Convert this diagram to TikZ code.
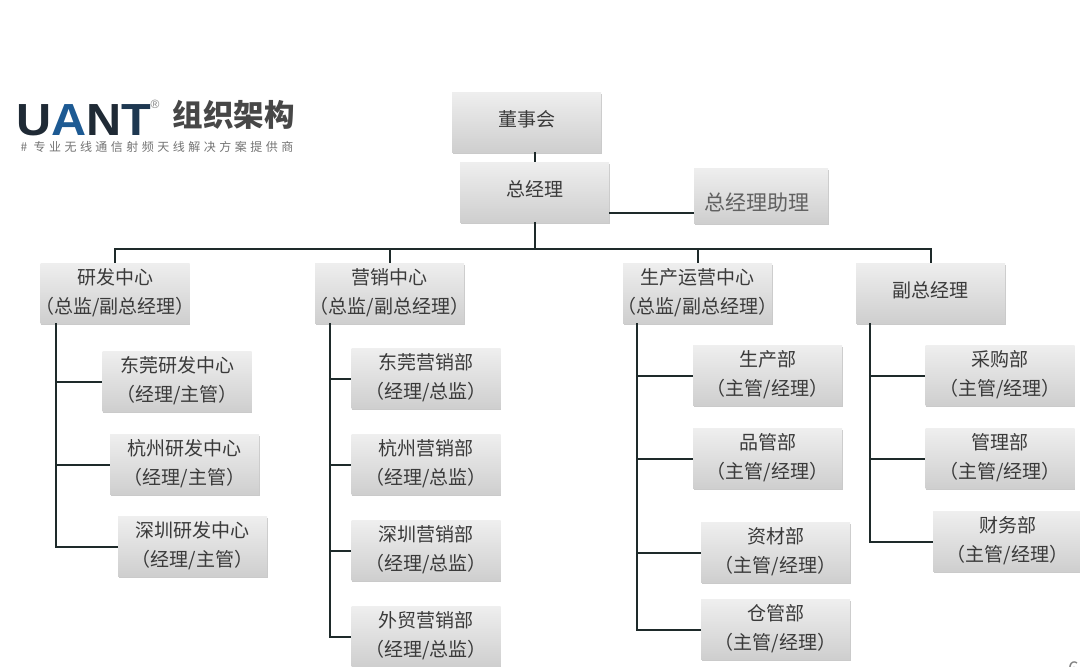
\documentclass[tikz,border=0pt]{standalone}
\usepackage{fontspec}
\setmainfont{Noto Sans CJK SC}
\newfontfamily\logofont{Liberation Sans}
\newfontfamily\tagfont[LetterSpace=29]{Noto Sans CJK SC}
\usetikzlibrary{shadows}
\definecolor{linec}{HTML}{1E2A2A}
\definecolor{textc}{HTML}{3A3A3A}
\definecolor{logoblue}{HTML}{1D5A93}
\definecolor{logodark}{HTML}{1F2A35}
\begin{document}
\begin{tikzpicture}[x=1pt, y=-1pt, every node/.style={font=\fontsize{19}{29}\selectfont, text=textc},
  b/.style={top color=gray!13, bottom color=gray!38, align=center, inner ysep=0pt, inner xsep=-8pt, minimum width=149pt, minimum height=60pt, text depth=4.5pt,
    drop shadow={shadow xshift=0.5pt, shadow yshift=-1.5pt, fill=gray!70, opacity=0.6}},
  one/.style={text depth=7pt},
  l/.style={draw=linec, line width=2pt}]
  \useasboundingbox (0,0) rectangle (1080,667);
  % logo
  \node[font=\logofont\bfseries\fontsize{45}{45}\selectfont, inner sep=0pt, text height=33pt, text depth=0pt, xscale=1.08] (uant) at (84,119) {\textcolor{logodark}{U}\textcolor{logoblue}{A}\textcolor{logodark}{N}\textcolor{logodark!70!logoblue}{T}};
  \node[font=\logofont\fontsize{12}{12}\selectfont, text=gray, inner sep=0pt] (reg) at (155,104) {\textregistered};
  \node[font=\bfseries\fontsize{30.5}{31}\selectfont, text=black!72, inner sep=0pt] (title) at (233.5,115) {组织架构};
  \node[font=\tagfont\fontsize{12}{12}\selectfont, text=gray!90!black, inner sep=0pt] (tag) at (157,147) {\# 专业无线通信射频天线解决方案提供商};
  % top
  \node[b, one] (board) at (526.5,122) {董事会};
  \node[b, one] (gm) at (534.5,192) {总经理};
  \node[b, minimum width=134pt, minimum height=55pt] (asst) at (761,195.5) {};
  \node[font=\fontsize{21}{29}\selectfont, text=textc!80, inner sep=0pt] (asstt) at (757,203) {总经理助理};
  % centres
  \node[b] (rd) at (115,293) {研发中心\\（总监/副总经理）};
  \node[b] (mkt) at (389.5,293) {营销中心\\（总监/副总经理）};
  \node[b] (prod) at (697.5,293) {生产运营中心\\（总监/副总经理）};
  \node[b, one] (vp) at (930.5,293) {副总经理};
  % rd
  \node[b] (rddg) at (177,381.5) {东莞研发中心\\（经理/主管）};
  \node[b] (rdhz) at (184.5,464.5) {杭州研发中心\\（经理/主管）};
  \node[b] (rdsz) at (192.5,546.5) {深圳研发中心\\（经理/主管）};
  % mkt
  \node[b] (mkdg) at (426,378.5) {东莞营销部\\（经理/总监）};
  \node[b] (mkhz) at (426,464.5) {杭州营销部\\（经理/总监）};
  \node[b] (mksz) at (426,550.5) {深圳营销部\\（经理/总监）};
  \node[b] (mkwm) at (426,636.5) {外贸营销部\\（经理/总监）};
  % prod
  \node[b] (pdsc) at (767.5,375.5) {生产部\\（主管/经理）};
  \node[b] (pdpg) at (767.5,458.5) {品管部\\（主管/经理）};
  \node[b] (pdzc) at (775.5,552.5) {资材部\\（主管/经理）};
  \node[b] (pdcg) at (775.5,629.5) {仓管部\\（主管/经理）};
  % vp
  \node[b] (vpcg) at (1000,375.5) {采购部\\（主管/经理）};
  \node[b] (vpgl) at (1000,458.5) {管理部\\（主管/经理）};
  \node[b] (vpcw) at (1007.5,541.5) {财务部\\（主管/经理）};
  % connectors
  \coordinate (bus) at (534.5,249);
  \coordinate (asstj) at (694,213);
  \coordinate (rdt) at (56,323);
  \coordinate (mkt0) at (330,323);
  \coordinate (prodt) at (637,323);
  \coordinate (vpt) at (870,323);
  \draw[l] (gm.north) -- (gm.north |- board.south);
  \draw[l] (gm.south) -- (bus);
  \draw[l] (gm.east |- asstj) -- (asstj);
  \draw[l] (rd.north) |- (bus) -| (vp.north);
  \draw[l] (mkt.north) -- (mkt.north |- bus);
  \draw[l] (prod.north) -- (prod.north |- bus);
  \draw[l] (rdt) |- (rdsz.west);
  \draw[l] (rdt |- rddg.west) -- (rddg.west);
  \draw[l] (rdt |- rdhz.west) -- (rdhz.west);
  \draw[l] (mkt0) |- (mkwm.west);
  \draw[l] (mkt0 |- mkdg.west) -- (mkdg.west);
  \draw[l] (mkt0 |- mkhz.west) -- (mkhz.west);
  \draw[l] (mkt0 |- mksz.west) -- (mksz.west);
  \draw[l] (prodt) |- (pdcg.west);
  \draw[l] (prodt |- pdsc.west) -- (pdsc.west);
  \draw[l] (prodt |- pdpg.west) -- (pdpg.west);
  \draw[l] (prodt |- pdzc.west) -- (pdzc.west);
  \draw[l] (vpt) |- (vpcw.west);
  \draw[l] (vpt |- vpcg.west) -- (vpcg.west);
  \draw[l] (vpt |- vpgl.west) -- (vpgl.west);
  % page number
  \node[text=gray, inner sep=0pt] (pageno) at (1074,669) {6};
\end{tikzpicture}
\end{document}
